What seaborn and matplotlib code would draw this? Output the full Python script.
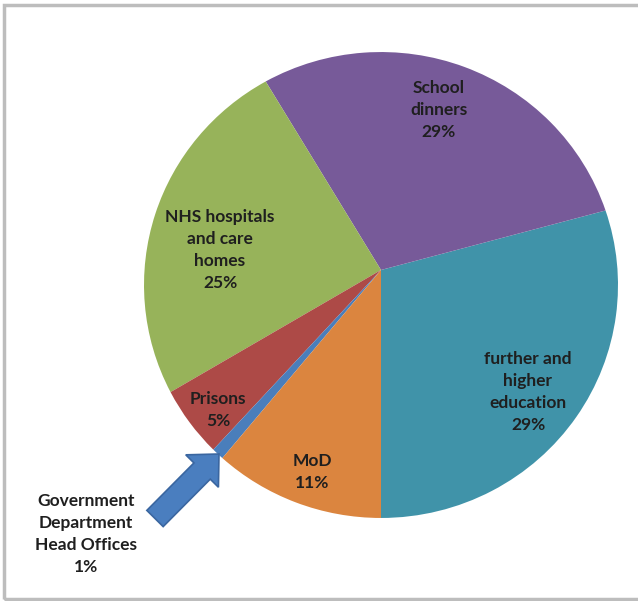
import numpy as np
import matplotlib
matplotlib.use("Agg")
import matplotlib.pyplot as plt
import matplotlib.patches as mpatches
from matplotlib.transforms import Transform
import seaborn as sns

# ---- data ----
categories = ["further and\nhigher\neducation", "School\ndinners",
              "NHS hospitals\nand care\nhomes", "Prisons",
              "Government\nDepartment\nHead Offices", "MoD"]
values = [29.2, 29.4, 24.9, 4.7, 0.8, 11.0]
colors = ["#4093A9", "#775A99", "#97B35A", "#AD4A47", "#4A7EBB", "#DB853F"]

# label positions (pixels, y down)
label_pos = [(528, 392), (439, 110), (220, 250), (218, 410), (86, 534), (312, 472)]

sns.set_theme(style="white")
plt.rcParams["font.family"] = ["Lato", "DejaVu Sans"]

W, H = 638, 601
fig = plt.figure(figsize=(W / 100, H / 100), dpi=100)
ax = fig.add_axes([0, 0, 1, 1])


class Perspective(Transform):
    input_dims = 2
    output_dims = 2
    is_separable = False
    has_inverse = False

    def __init__(self, cx, cy, rx, ry, k):
        super().__init__()
        self.cx, self.cy, self.rx, self.ry, self.k = cx, cy, rx, ry, k

    def transform_non_affine(self, values):
        values = np.asarray(values, dtype=float)
        u, v = values[:, 0], values[:, 1]
        d = 1 + self.k * v
        return np.column_stack([self.cx + self.rx * u / d,
                                self.cy - self.ry * v / d])


wedges, _ = ax.pie(values, colors=colors, startangle=-90, counterclock=True,
                   wedgeprops=dict(linewidth=0))
persp = Perspective(381, 270, 236.5, 232, 0.0644)
for w in wedges:
    w.set_transform(persp + ax.transData)

ax.set_xlim(0, W)
ax.set_ylim(H, 0)
ax.set_axis_off()

fs = 12.5
for (x, y), lab, val in zip(label_pos, categories, values):
    pct = f"{round(val):d}%"
    ax.text(x, y, f"{lab}\n{pct}", ha="center", va="center",
            multialignment="center", fontsize=fs, fontweight="bold",
            color="#1f1f1f", linespacing=1.45)

# block arrow pointing to the small slice
arrow = mpatches.FancyArrow(155, 518.5, 64, -64.5, width=23, head_width=46,
                            head_length=24, length_includes_head=True,
                            facecolor="#4A7EBF", edgecolor="#3A66A0", linewidth=1.2)
ax.add_patch(arrow)

# chart border
fig.patches.append(mpatches.Rectangle((3.5 / W, 2.5 / H), 1.2, (H - 7.5) / H,
                                      transform=fig.transFigure, fill=False,
                                      edgecolor="#BDBDBD", linewidth=2.5))

fig.savefig("out.png", dpi=100)
